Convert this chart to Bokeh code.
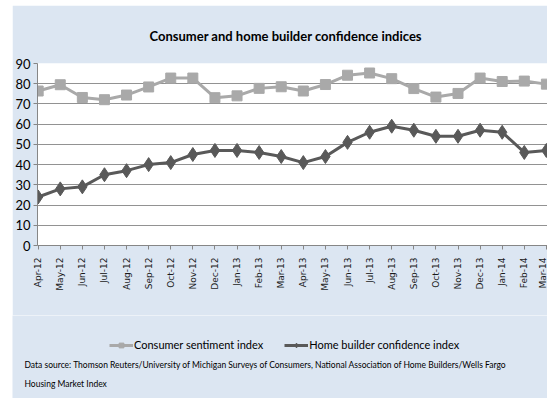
import math
from bokeh.plotting import figure
from bokeh.models import Range1d, FixedTicker, Legend, LegendItem, Label, Spacer
from bokeh.layouts import column, row
from bokeh.embed import file_html
from bokeh.resources import INLINE

months = ["Apr-12", "May-12", "Jun-12", "Jul-12", "Aug-12", "Sep-12", "Oct-12",
          "Nov-12", "Dec-12", "Jan-13", "Feb-13", "Mar-13", "Apr-13", "May-13",
          "Jun-13", "Jul-13", "Aug-13", "Sep-13", "Oct-13", "Nov-13", "Dec-13",
          "Jan-14", "Feb-14", "Mar-14"]
consumer = [76.4, 79.5, 73.2, 72.1, 74.4, 78.4, 82.8, 82.8, 73.1, 74.0, 77.7, 78.5,
            76.4, 79.6, 84.2, 85.3, 82.5, 77.6, 73.4, 75.2, 82.8, 81.1, 81.3, 79.8]
builder = [24, 28, 29, 35, 37, 40, 41, 45, 47, 47, 46, 44,
           41, 44, 51, 56, 59, 57, 54, 54, 57, 56, 46, 47]
y_ticks = [0, 10, 20, 30, 40, 50, 60, 70, 80, 90]
series_names = ["Consumer sentiment index", "Home builder confidence index"]
title_text = "Consumer and home builder confidence indices"
source_lines = ["Data source: Thomson Reuters/University of Michigan Surveys of Consumers, National Association of Home Builders/Wells Fargo",
                "Housing Market Index"]

BG = "#dce6f2"
FONT = "Lato"
C1 = "#a9a9a9"
C2 = "#595959"
idx = list(range(len(months)))

# ---- main chart ----
p = figure(width=535, height=310, output_backend="svg", toolbar_location=None,
           x_range=Range1d(-0.03, 23.05), y_range=Range1d(0, 90),
           min_border_left=23, min_border_right=0, min_border_top=56, min_border_bottom=70)
p.background_fill_color = "white"
p.border_fill_color = BG
p.outline_line_color = None

p.title.text = title_text
p.title.align = "left"
p.title.offset = 112
p.title.text_font = FONT
p.title.text_font_size = "13px"
p.title.text_font_style = "bold"
p.title.text_color = "#000000"
p.title.standoff = 40

p.line(idx, consumer, line_color=C1, line_width=3)
p.scatter(idx, consumer, marker="square", size=10, fill_color=C1, line_color=C1)
p.line(idx, builder, line_color=C2, line_width=3)
p.scatter(idx, builder, marker="diamond", size=14, fill_color=C2, line_color=C2)

p.xgrid.grid_line_color = None
p.ygrid.grid_line_color = "#929292"
p.ygrid.ticker = FixedTicker(ticks=y_ticks)

p.yaxis.ticker = FixedTicker(ticks=y_ticks)
p.yaxis.axis_line_color = "#868686"
p.yaxis.major_tick_line_color = "#868686"
p.yaxis.major_tick_out = 4
p.yaxis.major_tick_in = 0
p.yaxis.minor_tick_line_color = None
p.yaxis.major_label_text_font = FONT
p.yaxis.major_label_text_font_size = "13px"
p.yaxis.major_label_text_color = "#000000"
p.yaxis.major_label_standoff = 3

p.xaxis.ticker = FixedTicker(ticks=idx)
p.xaxis.major_label_overrides = {i: m for i, m in enumerate(months)}
p.xaxis.major_label_orientation = math.pi / 2
p.xaxis.axis_line_color = "#868686"
p.xaxis.major_tick_line_color = "#868686"
p.xaxis.major_tick_out = 4
p.xaxis.major_tick_in = 0
p.xaxis.minor_tick_line_color = None
p.xaxis.major_label_text_font = "DejaVu Sans"
p.xaxis.major_label_text_font_size = "9px"
p.xaxis.major_label_text_color = "#1a1a1a"
p.xaxis.major_label_standoff = 8

# ---- legend + source panel ----
q = figure(width=535, height=83, output_backend="svg", toolbar_location=None,
           x_range=Range1d(1000, 1535), y_range=Range1d(0, 83),
           x_axis_location=None, y_axis_location=None,
           min_border_left=0, min_border_right=0, min_border_top=0, min_border_bottom=0)
q.grid.visible = False
q.outline_line_color = None
q.background_fill_color = BG
q.border_fill_color = BG

k1 = q.line(idx, consumer, line_color=C1, line_width=3)
m1 = q.scatter(idx, consumer, marker="square", size=10, fill_color=C1, line_color=C1)
k2 = q.line(idx, builder, line_color=C2, line_width=3)
m2 = q.scatter(idx, builder, marker="diamond", size=14, fill_color=C2, line_color=C2)

legend = Legend(items=[LegendItem(label=series_names[0], renderers=[k1, m1]),
                       LegendItem(label=series_names[1], renderers=[k2, m2])],
                orientation="horizontal", location=(97, 47))
legend.background_fill_alpha = 0
legend.border_line_color = None
legend.label_text_font = FONT
legend.label_text_font_size = "11px"
legend.label_text_color = "#000000"
legend.glyph_width = 24
legend.glyph_height = 12
legend.spacing = 21
legend.padding = 4
legend.margin = 0
legend.label_standoff = 1
q.add_layout(legend, "center")

for i, line in enumerate(source_lines):
    lab = Label(x=12, y=34 - 19 * i, x_units="screen", y_units="screen", text=line,
                text_font=FONT, text_font_size="8.5px", text_color="#000000",
                text_baseline="middle", text_align="left")
    q.add_layout(lab)

layout = column(Spacer(width=547, height=5),
                row(Spacer(width=12, height=393),
                    column(p, row(q, spacing=0), spacing=0),
                    spacing=0),
                spacing=0)
open("out.html", "w").write(file_html(layout, INLINE))
